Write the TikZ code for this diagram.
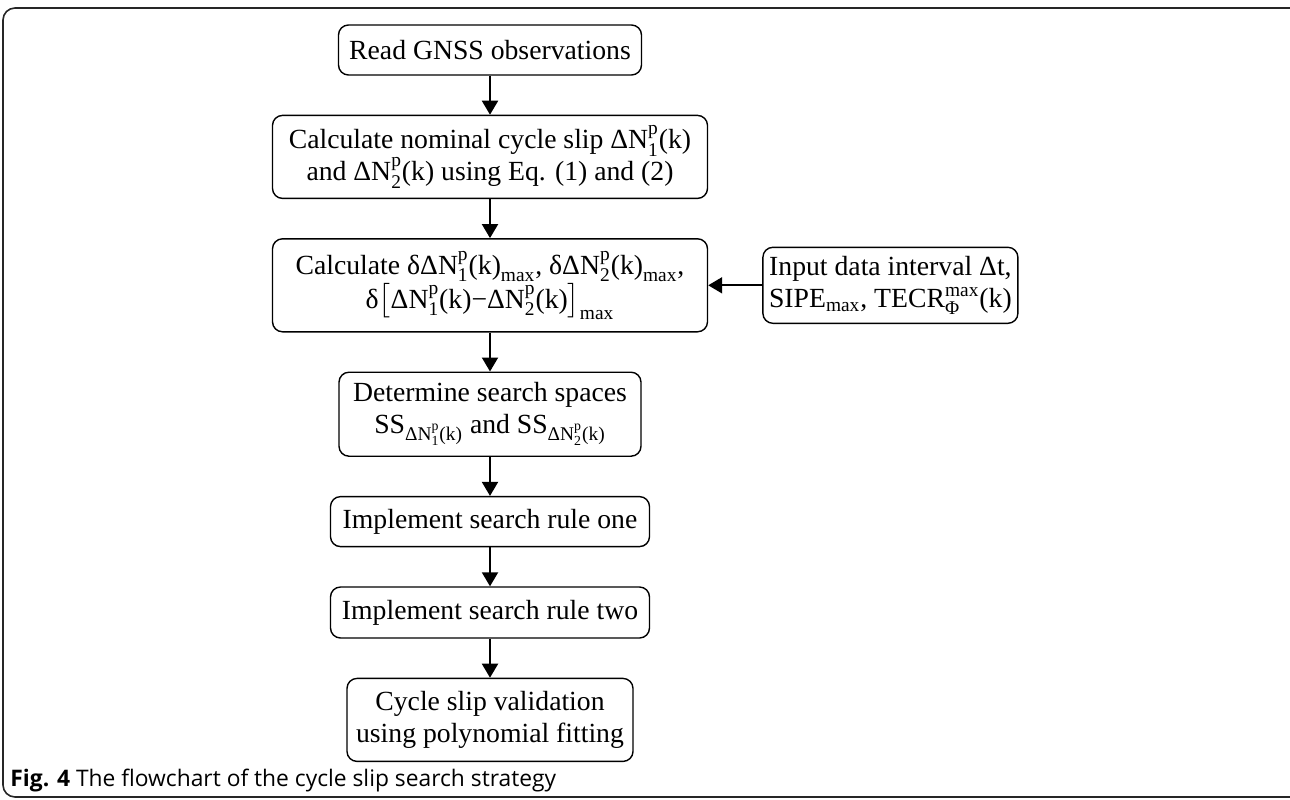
\documentclass[tikz,border=0pt]{standalone}
\usepackage{amsmath}
\usepackage{fontspec}
\setmainfont{Liberation Serif}
\newfontfamily\capfont{Open Sans}
\usetikzlibrary{arrows.meta, positioning}
\newcommand{\dN}[1]{\text{ΔN}_{\text{#1}}^{\text{p}}\text{(k)}}
\newcommand{\mx}{_{\text{max}}}

\begin{document}
\begin{tikzpicture}[
  x=0.5pt, y=-0.5pt,
  node distance=19.5pt,
  flowbox/.style={rectangle, draw, rounded corners=5pt, line width=0.7pt,
               align=center, inner sep=2pt,
               font=\fontsize{13.85}{16}\selectfont},
  arr/.style={-{Triangle[length=7pt, width=8pt]}, line width=1pt}
]
  \useasboundingbox (0,0) rectangle (1290,799);
  \draw[line width=0.8pt, rounded corners=6pt, black!85] (3,8) rectangle (1320,797);

  \node[flowbox, minimum width=151.5pt, minimum height=25pt] (read) at (490,50) {Read GNSS observations};
  \node[flowbox, minimum width=217.5pt, minimum height=41.5pt, below=of read] (nom)
    {Calculate nominal cycle slip $\dN{1}$\\ and $\dN{2}$ using Eq. (1) and (2)};
  \node[flowbox, minimum width=217.5pt, minimum height=46.5pt, below=of nom] (delta)
    {Calculate δ$\dN{1}\mx$, δ$\dN{2}\mx$,\\ δ$\bigl[\dN{1}\text{−}\dN{2}\bigr]\mx$};
  \node[flowbox, minimum width=127.5pt, minimum height=38pt, right=27pt of delta] (inp)
    {Input data interval Δt,\\ SIPE$\mx$, TECR$_{\text{Φ}}^{\text{max}}$(k)};
  \node[flowbox, minimum width=151pt, minimum height=42pt, below=of delta] (space)
    {Determine search spaces\\ SS$_{\dN{1}}$ and SS$_{\dN{2}}$};
  \node[flowbox, minimum width=159.5pt, minimum height=25pt, below=of space] (ruleone) {Implement search rule one};
  \node[flowbox, minimum width=159.5pt, minimum height=25.5pt, below=of ruleone] (ruletwo) {Implement search rule two};
  \node[flowbox, minimum width=143pt, minimum height=41.5pt, below=of ruletwo] (valid)
    {Cycle slip validation\\ using polynomial fitting};

  \draw[arr] (read) -- (nom);
  \draw[arr] (nom) -- (delta);
  \draw[arr] (inp) -- (delta);
  \draw[arr] (delta) -- (space);
  \draw[arr] (space) -- (ruleone);
  \draw[arr] (ruleone) -- (ruletwo);
  \draw[arr] (ruletwo) -- (valid);

  \node[anchor=base west, inner sep=0pt, font=\capfont\fontsize{11.4}{13}\selectfont] (cap) at (10,786)
    {\textbf{Fig. 4} The flowchart of the cycle slip search strategy};
\end{tikzpicture}
\end{document}
